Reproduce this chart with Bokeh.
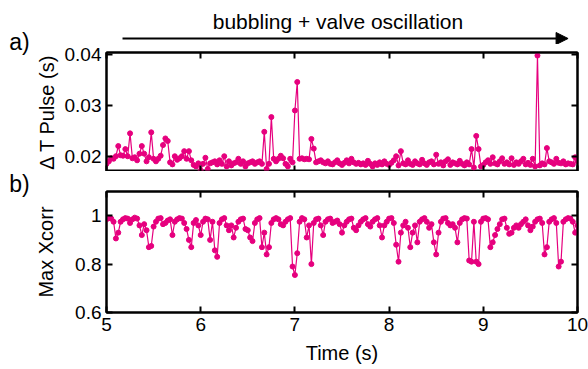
from bokeh.plotting import figure
from bokeh.models import Range1d, LinearAxis, FixedTicker, Label, Arrow, NormalHead
from bokeh.layouts import column, row
from bokeh.embed import file_html
from bokeh.resources import INLINE

# ---------------- data ----------------
time_s = [
    5.000, 5.025, 5.050, 5.075, 5.100, 5.125, 5.150, 5.175, 5.200, 5.225,
    5.250, 5.275, 5.300, 5.325, 5.350, 5.375, 5.400, 5.425, 5.450, 5.475,
    5.500, 5.525, 5.550, 5.575, 5.600, 5.625, 5.650, 5.675, 5.700, 5.725,
    5.750, 5.775, 5.800, 5.825, 5.850, 5.875, 5.900, 5.925, 5.950, 5.975,
    6.000, 6.025, 6.050, 6.075, 6.100, 6.125, 6.150, 6.175, 6.200, 6.225,
    6.250, 6.275, 6.300, 6.325, 6.350, 6.375, 6.400, 6.425, 6.450, 6.475,
    6.500, 6.525, 6.550, 6.575, 6.600, 6.625, 6.650, 6.675, 6.700, 6.725,
    6.750, 6.775, 6.800, 6.825, 6.850, 6.875, 6.900, 6.925, 6.950, 6.975,
    7.000, 7.025, 7.050, 7.075, 7.100, 7.125, 7.150, 7.175, 7.200, 7.225,
    7.250, 7.275, 7.300, 7.325, 7.350, 7.375, 7.400, 7.425, 7.450, 7.475,
    7.500, 7.525, 7.550, 7.575, 7.600, 7.625, 7.650, 7.675, 7.700, 7.725,
    7.750, 7.775, 7.800, 7.825, 7.850, 7.875, 7.900, 7.925, 7.950, 7.975,
    8.000, 8.025, 8.050, 8.075, 8.100, 8.125, 8.150, 8.175, 8.200, 8.225,
    8.250, 8.275, 8.300, 8.325, 8.350, 8.375, 8.400, 8.425, 8.450, 8.475,
    8.500, 8.525, 8.550, 8.575, 8.600, 8.625, 8.650, 8.675, 8.700, 8.725,
    8.750, 8.775, 8.800, 8.825, 8.850, 8.875, 8.900, 8.925, 8.950, 8.975,
    9.000, 9.025, 9.050, 9.075, 9.100, 9.125, 9.150, 9.175, 9.200, 9.225,
    9.250, 9.275, 9.300, 9.325, 9.350, 9.375, 9.400, 9.425, 9.450, 9.475,
    9.500, 9.525, 9.550, 9.575, 9.600, 9.625, 9.650, 9.675, 9.700, 9.725,
    9.750, 9.775, 9.800, 9.825, 9.850, 9.875, 9.900, 9.925, 9.950, 9.975,
    10.000,
]

dt_pulse = [
    0.0185, 0.0190, 0.0196, 0.0195, 0.0200, 0.0220, 0.0202, 0.0201, 0.0214, 0.0200,
    0.0245, 0.0196, 0.0198, 0.0192, 0.0205, 0.0220, 0.0205, 0.0190, 0.0198, 0.0247,
    0.0195, 0.0190, 0.0195, 0.0201, 0.0222, 0.0235, 0.0230, 0.0188, 0.0184, 0.0200,
    0.0193, 0.0196, 0.0200, 0.0210, 0.0195, 0.0210, 0.0192, 0.0183, 0.0180, 0.0186,
    0.0172, 0.0185, 0.0197, 0.0175, 0.0186, 0.0188, 0.0190, 0.0184, 0.0192, 0.0185,
    0.0200, 0.0180, 0.0190, 0.0182, 0.0186, 0.0188, 0.0195, 0.0185, 0.0190, 0.0180,
    0.0186, 0.0188, 0.0190, 0.0185, 0.0188, 0.0190, 0.0185, 0.0248, 0.0175, 0.0185,
    0.0277, 0.0195, 0.0190, 0.0195, 0.0201, 0.0196, 0.0185, 0.0180, 0.0195, 0.0188,
    0.0290, 0.0346, 0.0195, 0.0196, 0.0194, 0.0195, 0.0194, 0.0234, 0.0215, 0.0188,
    0.0190, 0.0192, 0.0188, 0.0186, 0.0190, 0.0185, 0.0184, 0.0188, 0.0192, 0.0186,
    0.0183, 0.0187, 0.0192, 0.0186, 0.0195, 0.0188, 0.0185, 0.0187, 0.0184, 0.0186,
    0.0183, 0.0191, 0.0185, 0.0180, 0.0186, 0.0183, 0.0188, 0.0184, 0.0190, 0.0185,
    0.0183, 0.0187, 0.0192, 0.0200, 0.0182, 0.0210, 0.0186, 0.0184, 0.0192, 0.0185,
    0.0183, 0.0190, 0.0186, 0.0184, 0.0193, 0.0186, 0.0183, 0.0188, 0.0190, 0.0184,
    0.0203, 0.0185, 0.0188, 0.0182, 0.0190, 0.0194, 0.0183, 0.0188, 0.0186, 0.0184,
    0.0191, 0.0185, 0.0182, 0.0188, 0.0184, 0.0214, 0.0178, 0.0240, 0.0214, 0.0180,
    0.0183, 0.0188, 0.0192, 0.0185, 0.0198, 0.0186, 0.0184, 0.0190, 0.0196, 0.0185,
    0.0188, 0.0184, 0.0196, 0.0183, 0.0188, 0.0185, 0.0190, 0.0195, 0.0184, 0.0187,
    0.0183, 0.0195, 0.0180, 0.0398, 0.0182, 0.0186, 0.0184, 0.0216, 0.0190, 0.0188,
    0.0185, 0.0195, 0.0187, 0.0186, 0.0190, 0.0184, 0.0186, 0.0185, 0.0184, 0.0198,
    0.0190,
]

max_xcorr = [
    0.985, 0.990, 0.988, 0.975, 0.906, 0.930, 0.975, 0.985, 0.990, 0.988,
    0.970, 0.985, 0.992, 0.988, 0.960, 0.920, 0.965, 0.940, 0.870, 0.875,
    0.955, 0.975, 0.988, 0.990, 0.965, 0.970, 0.980, 0.985, 0.920, 0.975,
    0.985, 0.990, 0.988, 0.970, 0.945, 0.900, 0.870, 0.970, 0.982, 0.960,
    0.920, 0.975, 0.988, 0.985, 0.900, 0.975, 0.857, 0.830, 0.970, 0.985,
    0.990, 0.960, 0.940, 0.960, 0.910, 0.950, 0.975, 0.985, 0.988, 0.945,
    0.940, 0.910, 0.895, 0.970, 0.985, 0.990, 0.870, 0.930, 0.840, 0.870,
    0.970, 0.985, 0.990, 0.985, 0.965, 0.960, 0.975, 0.985, 0.990, 0.790,
    0.755, 0.845, 0.975, 0.990, 0.985, 0.910, 0.960, 0.800, 0.970, 0.985,
    0.988, 0.960, 0.920, 0.975, 0.985, 0.988, 0.970, 0.975, 0.980, 0.965,
    0.930, 0.960, 0.975, 0.985, 0.988, 0.950, 0.940, 0.960, 0.975, 0.985,
    0.990, 0.965, 0.955, 0.975, 0.985, 0.990, 0.960, 0.910, 0.960, 0.975,
    0.988, 0.990, 0.970, 0.880, 0.810, 0.930, 0.960, 0.975, 0.950, 0.870,
    0.930, 0.960, 0.890, 0.975, 0.985, 0.990, 0.975, 0.950, 0.965, 0.890,
    0.840, 0.930, 0.975, 0.988, 0.990, 0.970, 0.960, 0.965, 0.950, 0.890,
    0.970, 0.985, 0.990, 0.988, 0.815, 0.810, 0.975, 0.810, 0.800, 0.975,
    0.988, 0.990, 0.985, 0.870, 0.890, 0.920, 0.945, 0.965, 0.985, 0.988,
    0.950, 0.925, 0.930, 0.950, 0.960, 0.950, 0.965, 0.975, 0.985, 0.960,
    0.940, 0.955, 0.975, 0.985, 0.988, 0.970, 0.840, 0.870, 0.975, 0.985,
    0.990, 0.970, 0.790, 0.810, 0.975, 0.985, 0.990, 0.988, 0.975, 0.930,
    0.960,
]

x_ticks = [5, 6, 7, 8, 9, 10]
top_y_ticks = [0.02, 0.03, 0.04]
bot_y_ticks = [0.6, 0.8, 1.0]
bot_y_labels = {0.6: "0.6", 0.8: "0.8", 1.0: "1"}

title_text = "bubbling + valve oscillation"

# ---------------- style / layout constants ----------------
FONT = "Liberation Sans"
COLOR = "#E6007E"
TICK_FS = "19px"
LABEL_FS = "20px"
STRIP_W = 32         # left strip holding the panel letters
LEFT = 74            # border left of the plot frames (after the strip)
FRAME_W = 471
RIGHT = 11
COL_W = LEFT + FRAME_W + RIGHT
PX_PER_S = FRAME_W / 5.0
HEAD_H = 44
TOTAL_H = 367


def style_axis(ax, ticks, show_labels):
    ax.ticker = FixedTicker(ticks=ticks)
    ax.major_tick_in = 6
    ax.major_tick_out = 0
    ax.minor_tick_line_color = None
    ax.axis_line_width = 2
    ax.axis_line_color = "black"
    ax.major_tick_line_width = 2
    ax.major_tick_line_color = "black"
    ax.major_label_text_font = FONT
    ax.major_label_text_color = "black"
    if show_labels:
        ax.major_label_text_font_size = TICK_FS
        ax.major_label_standoff = 5
    else:
        ax.major_label_text_font_size = "0px"
        ax.major_label_standoff = 0
    ax.axis_label_text_font = FONT
    ax.axis_label_text_font_size = LABEL_FS
    ax.axis_label_text_font_style = "normal"
    ax.axis_label_text_color = "black"


def make_fig(y0, y1, frame_h, top_border, bottom_border):
    p = figure(frame_width=FRAME_W, frame_height=frame_h,
               x_range=Range1d(5, 10), y_range=Range1d(y0, y1),
               output_backend="svg", toolbar_location=None,
               min_border_left=LEFT, min_border_right=RIGHT,
               min_border_top=top_border, min_border_bottom=bottom_border)
    p.xgrid.visible = False
    p.ygrid.visible = False
    p.outline_line_color = "black"
    p.outline_line_width = 2
    p.background_fill_color = "white"
    p.border_fill_color = "white"
    return p


def make_strip(w, h, xr, yr):
    s = figure(frame_width=w, frame_height=h, x_range=xr, y_range=yr,
               x_axis_type=None, y_axis_type=None,
               output_backend="svg", toolbar_location=None,
               min_border_left=0, min_border_right=0,
               min_border_top=0, min_border_bottom=0)
    s.frame_align = False
    s.xgrid.visible = False
    s.ygrid.visible = False
    s.outline_line_color = None
    s.background_fill_color = "white"
    s.border_fill_color = "white"
    return s


# ---------------- left strip: panel letters (page-pixel coordinates) ----------------
letters = make_strip(STRIP_W, TOTAL_H, Range1d(0, STRIP_W), Range1d(TOTAL_H, 0))
letters.add_layout(Label(x=19, y=41, text="a)", text_font=FONT,
                         text_font_size="23px", text_align="center",
                         text_baseline="middle", text_color="black"))
letters.add_layout(Label(x=19, y=183, text="b)", text_font=FONT,
                         text_font_size="23px", text_align="center",
                         text_baseline="middle", text_color="black"))

# ---------------- header strip: title and arrow (time on x) ----------------
head = make_strip(COL_W, HEAD_H,
                  Range1d(5 - LEFT / PX_PER_S, 10 + RIGHT / PX_PER_S),
                  Range1d(HEAD_H, 0))
head.add_layout(Label(x=7.457, y=21, text=title_text, text_font=FONT,
                      text_font_size="21px", text_align="center",
                      text_baseline="middle", text_color="black"))
head.add_layout(Arrow(x_start=5.17, y_start=38, x_end=9.90, y_end=38,
                      line_width=2, line_color="black",
                      end=NormalHead(size=12, fill_color="black", line_color="black")))

# ---------------- top panel ----------------
p1 = make_fig(0.017, 0.0404, 119, 52 - HEAD_H, 0)
p1.line(time_s, dt_pulse, line_color=COLOR, line_width=1.2)
p1.scatter(time_s, dt_pulse, size=5, fill_color=COLOR, line_color=COLOR)
style_axis(p1.xaxis[0], x_ticks, False)
style_axis(p1.yaxis[0], top_y_ticks, True)
p1.yaxis[0].axis_label = "Δ T Pulse (s)"
p1.yaxis[0].axis_label_standoff = 4
ax_top1 = LinearAxis()
style_axis(ax_top1, x_ticks, False)
p1.add_layout(ax_top1, "above")
ax_right1 = LinearAxis()
style_axis(ax_right1, top_y_ticks, False)
p1.add_layout(ax_right1, "right")

# ---------------- bottom panel ----------------
p2 = make_fig(0.6, 1.1, 121, 20, 55)
p2.line(time_s, max_xcorr, line_color=COLOR, line_width=1.2)
p2.scatter(time_s, max_xcorr, size=5, fill_color=COLOR, line_color=COLOR)
style_axis(p2.xaxis[0], x_ticks, True)
p2.xaxis[0].axis_label = "Time (s)"
p2.xaxis[0].axis_label_standoff = 8
style_axis(p2.yaxis[0], bot_y_ticks, True)
p2.yaxis[0].major_label_overrides = bot_y_labels
p2.yaxis[0].axis_label = "Max Xcorr"
p2.yaxis[0].axis_label_standoff = 15
ax_top2 = LinearAxis()
style_axis(ax_top2, x_ticks, False)
p2.add_layout(ax_top2, "above")
ax_right2 = LinearAxis()
style_axis(ax_right2, bot_y_ticks, False)
p2.add_layout(ax_right2, "right")

layout = row(letters, column(head, p1, p2))
open("out.html", "w").write(file_html(layout, INLINE))
